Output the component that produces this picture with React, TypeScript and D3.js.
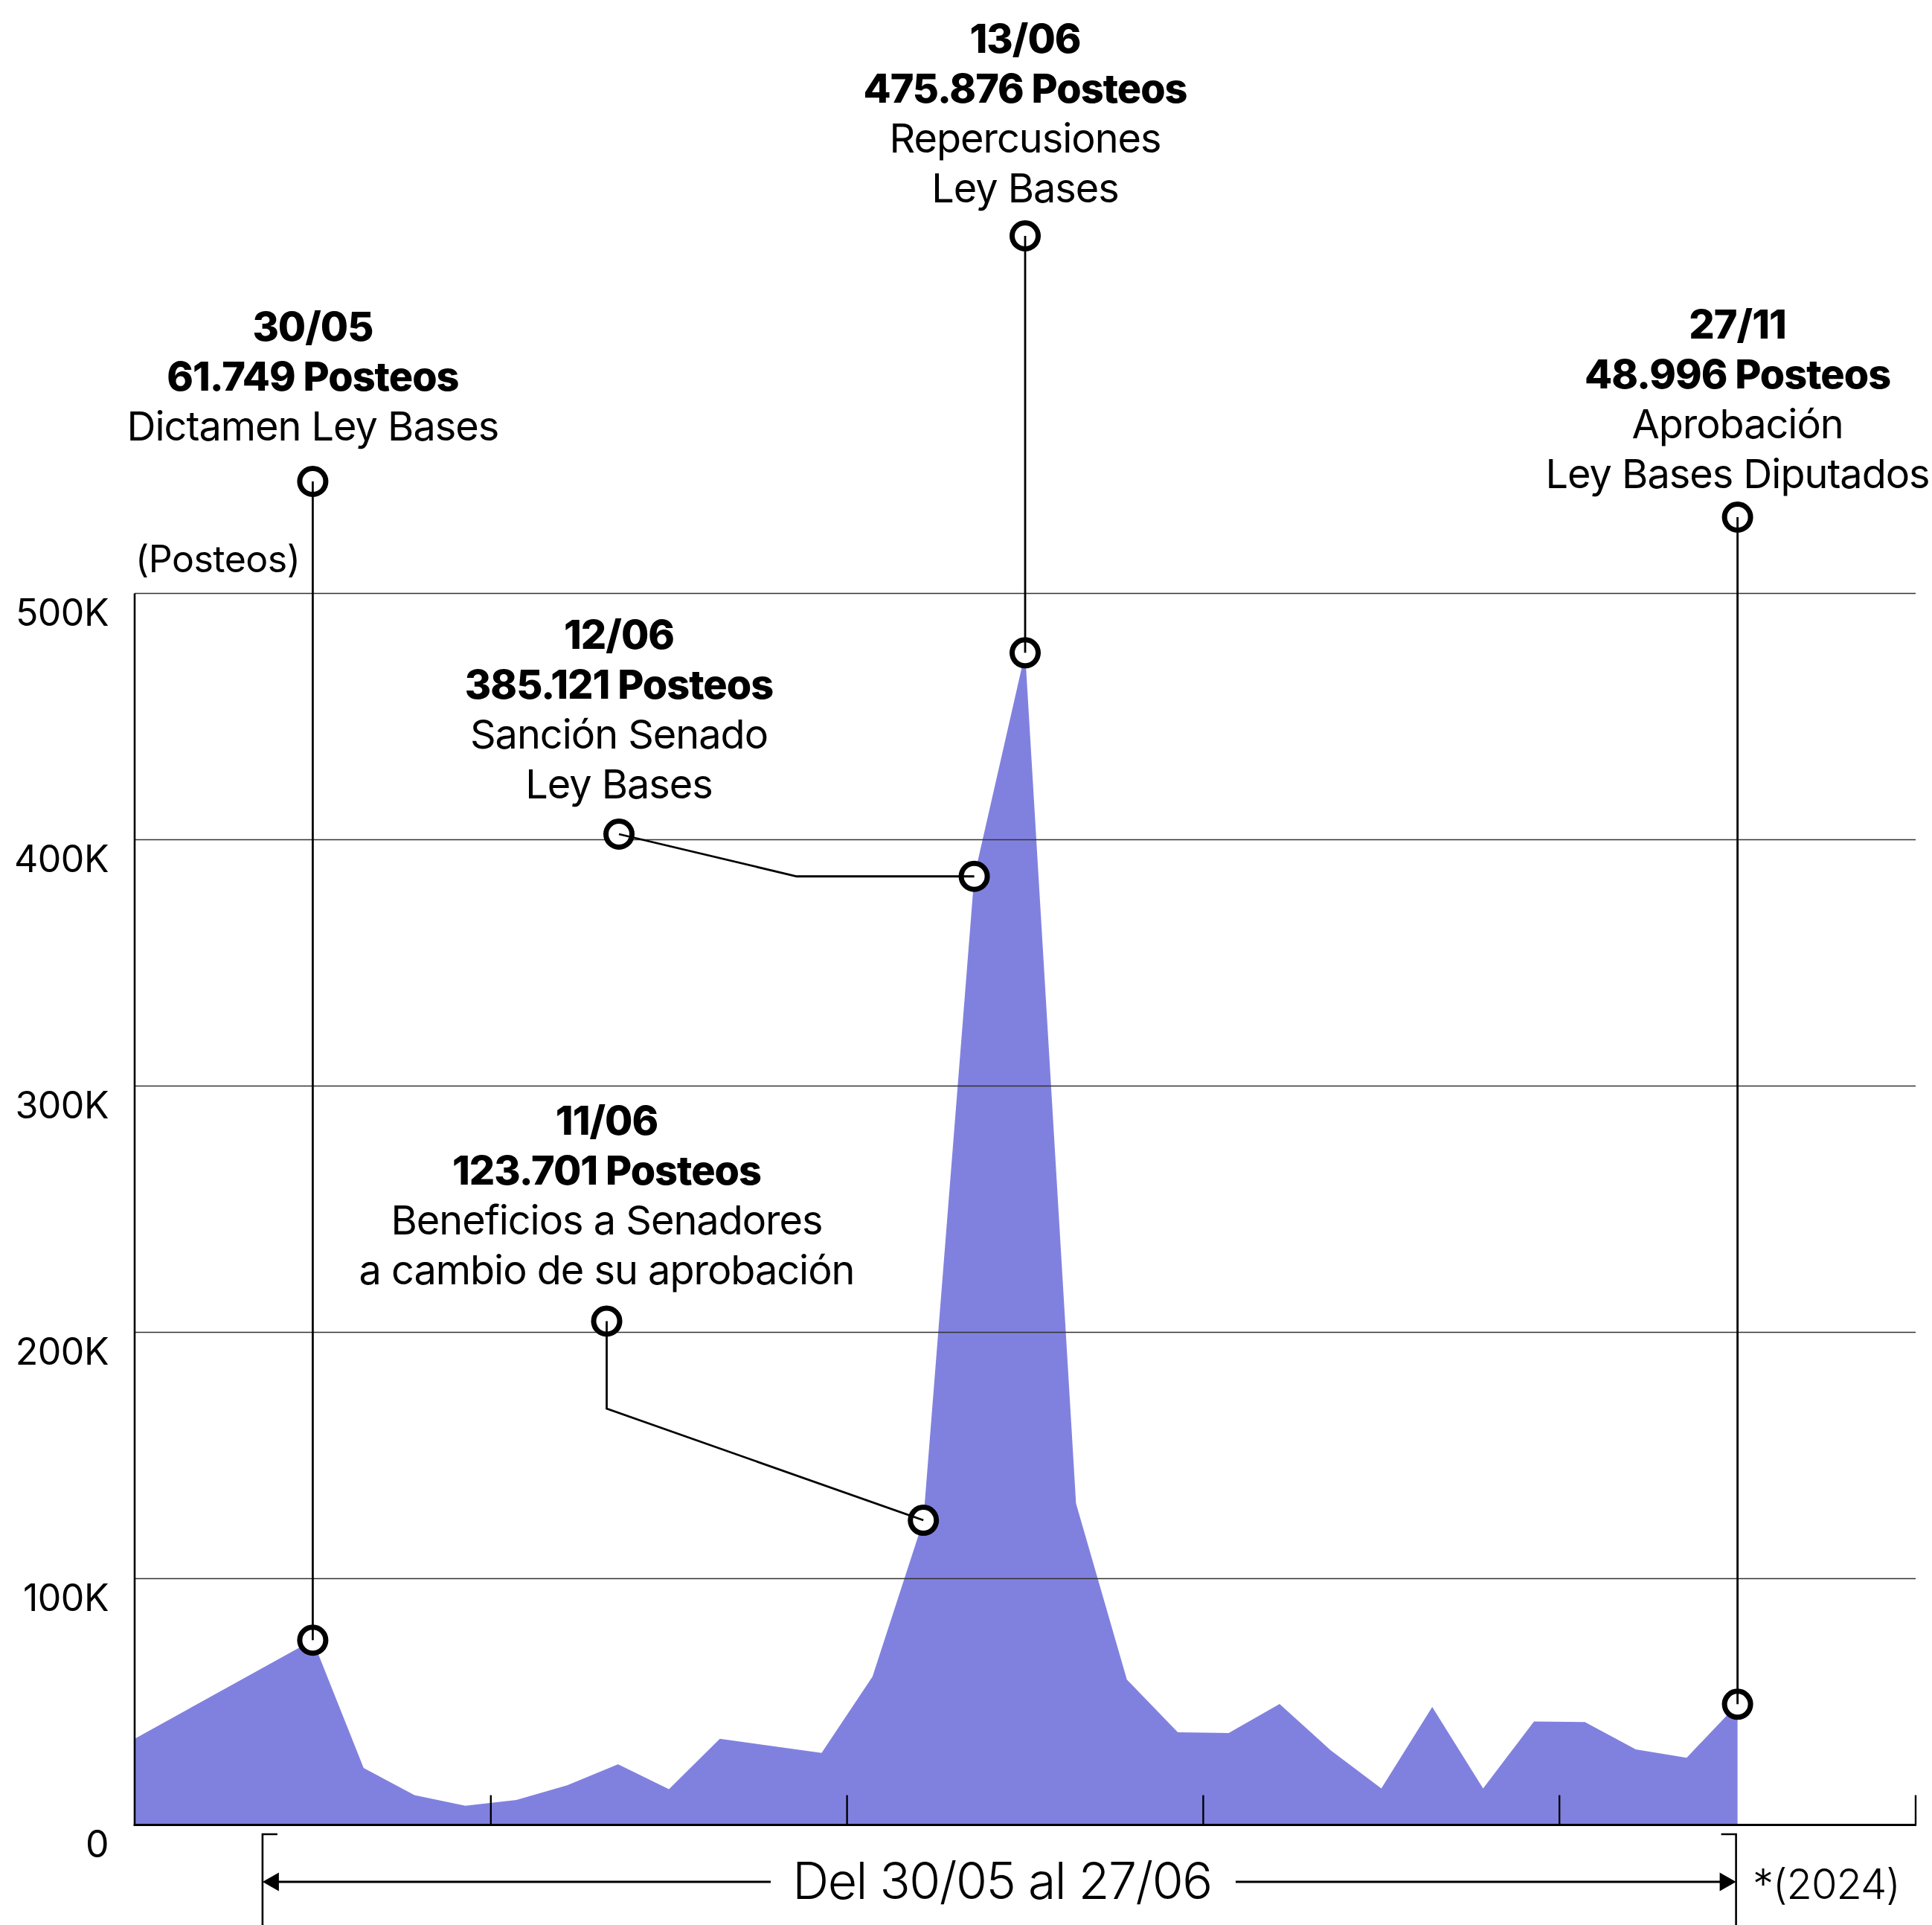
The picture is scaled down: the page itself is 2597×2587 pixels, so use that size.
import React from "react";
import * as d3 from "d3";

// ---------- data ----------
const days = [
  "30/05", "31/05", "01/06", "02/06", "03/06", "04/06", "05/06", "06/06",
  "07/06", "08/06", "09/06", "10/06", "11/06", "12/06", "13/06", "14/06",
  "15/06", "16/06", "17/06", "18/06", "19/06", "20/06", "21/06", "22/06",
  "23/06", "24/06", "25/06", "26/06", "27/06",
];
const posts = [
  75000, 23100, 12100, 7800, 10100, 16100, 24600, 14500,
  35000, 32100, 29200, 60200, 123701, 385121, 475876, 130500,
  59000, 37600, 37300, 49100, 30400, 14800, 47900, 14800,
  42000, 41800, 30700, 27300, 48996,
];
// value where the series enters the visible window (day offset -3.5)
const leadInOffset = -3.5;
const leadInPosts = 35000;

const xDomain = [-3.5, 31.5];
const xTickOffsets = [3.5, 10.5, 17.5, 24.5, 31.5];
const yTicks = [0, 100000, 200000, 300000, 400000, 500000];
const yTickLabels = ["0", "100K", "200K", "300K", "400K", "500K"];
const yLabel = "(Posteos)";
const rangeLabel = "Del 30/05 al 27/06";
const yearLabel = "*(2024)";

const annotationDays = ["30/05", "12/06", "11/06", "13/06", "27/06"];
const annotationTexts = [
  ["30/05", "61.749 Posteos", "Dictamen Ley Bases"],
  ["12/06", "385.121 Posteos", "Sanción Senado", "Ley Bases"],
  ["11/06", "123.701 Posteos", "Beneficios a Senadores", "a cambio de su aprobación"],
  ["13/06", "475.876 Posteos", "Repercusiones", "Ley Bases"],
  ["27/11", "48.996 Posteos", "Aprobación", "Ley Bases Diputados"],
];

// ---------- layout ----------
const W = 2597;
const H = 2587;
const PLOT = { left: 181, right: 2575, top: 797.5, bottom: 2452.5 };
const FONT = "Inter, 'Noto Sans', 'DejaVu Sans', sans-serif";
const INK = "#000";
const FILL = "#8081df";
const LINE_H = 67;

// label positions (pixel layout for each annotation)
const annLayout = [
  { cx: null, cy: 647, firstBaseline: 458, elbow: null },
  { cx: 832, cy: 1121, firstBaseline: 872, elbow: "h", elbowX: 1071 },
  { cx: 815.5, cy: 1775.5, firstBaseline: 1525, elbow: "v", elbowY: 1893 },
  { cx: null, cy: 317, firstBaseline: 71, elbow: null },
  { cx: null, cy: 695, firstBaseline: 455, elbow: null },
];

export default function App() {
  const x = d3.scaleLinear().domain(xDomain).range([PLOT.left, PLOT.right]);
  const y = d3.scaleLinear().domain([0, 500000]).range([PLOT.bottom, PLOT.top]);

  const series = [
    { i: leadInOffset, v: leadInPosts },
    ...posts.map((v, i) => ({ i, v })),
  ];
  const area = d3
    .area<{ i: number; v: number }>()
    .x((d) => x(d.i))
    .y0(y(0))
    .y1((d) => y(d.v))
    .curve(d3.curveLinear);

  const R = 17.5;
  const CIRCLE_W = 7;
  const LEADER_W = 2.8;

  const anns = annotationDays.map((day, a) => {
    const idx = days.indexOf(day);
    const px = x(idx);
    const py = y(posts[idx]);
    const L = annLayout[a];
    const cx = L.cx ?? px;
    const cy = L.cy;
    let pts: [number, number][];
    if (L.elbow === "h") pts = [[px, py], [L.elbowX as number, py], [cx, cy]];
    else if (L.elbow === "v") pts = [[px, py], [cx, L.elbowY as number], [cx, cy]];
    else pts = [[px, py], [cx, cy]];
    return { px, py, cx, cy, pts, lines: annotationTexts[a], firstBaseline: L.firstBaseline };
  });

  const line = d3.line();
  const arrowY = 2529;
  const bracketL = x(0) - 67.5;
  const bracketR = x(days.length - 1) - 2;
  const bracketTop = 2465;

  return (
    <svg
      width={W}
      height={H}
      viewBox={`0 0 ${W} ${H}`}
      style={{ position: "absolute", left: 0, top: 0, background: "#fff" }}
      fontFamily={FONT}
    >
      <rect x={0} y={0} width={W} height={H} fill="#fff" />
      {/* area */}
      <path d={area(series) as string} fill={FILL} />

      {/* gridlines */}
      {yTicks.slice(1).map((t) => (
        <line key={t} x1={PLOT.left} x2={PLOT.right} y1={y(t)} y2={y(t)} stroke="#333" strokeWidth={1.5} />
      ))}
      {/* axes */}
      <line x1={PLOT.left} x2={PLOT.left} y1={y(500000)} y2={y(0) + 1.5} stroke={INK} strokeWidth={2.6} />
      <line x1={PLOT.left - 1.3} x2={PLOT.right + 1} y1={y(0)} y2={y(0)} stroke={INK} strokeWidth={3.2} />
      {xTickOffsets.map((t) => (
        <line key={t} x1={x(t)} x2={x(t)} y1={y(0)} y2={y(0) - 40} stroke={INK} strokeWidth={2.4} />
      ))}

      {/* y labels */}
      {yTicks.map((t, i) => (
        <text key={t} x={146} y={y(t) + 43} textAnchor="end" fontSize={50} fill={INK} letterSpacing={-0.5}>
          {yTickLabels[i]}
        </text>
      ))}
      <text x={182} y={769} fontSize={50} fill={INK} letterSpacing={-0.5}>
        {yLabel}
      </text>

      {/* annotation circles & leaders */}
      {anns.map((a, k) => (
        <g key={k}>
          <circle cx={a.px} cy={a.py} r={R} fill="#fff" stroke={INK} strokeWidth={CIRCLE_W} />
          <circle cx={a.cx} cy={a.cy} r={R} fill="#fff" stroke={INK} strokeWidth={CIRCLE_W} />
          <path d={line(a.pts) as string} fill="none" stroke={INK} strokeWidth={LEADER_W} />
        </g>
      ))}

      {/* annotation text */}
      {anns.map((a, k) => (
        <text key={k} textAnchor="middle" fontSize={54} fill={INK} letterSpacing={-1}>
          {a.lines.map((s, j) => (
            <tspan key={j} x={a.cx} y={a.firstBaseline + j * LINE_H} fontWeight={j < 2 ? 800 : 400}>
              {s}
            </tspan>
          ))}
        </text>
      ))}

      {/* bottom range bracket */}
      <g stroke={INK} fill="none">
        <path d={`M${bracketL + 20},${bracketTop} H${bracketL} V${H + 5}`} strokeWidth={2.6} />
        <path d={`M${bracketR - 20},${bracketTop} H${bracketR} V${H + 5}`} strokeWidth={2.6} />
        <line x1={bracketL + 20} x2={1036} y1={arrowY} y2={arrowY} strokeWidth={3} />
        <line x1={1661} x2={bracketR - 20} y1={arrowY} y2={arrowY} strokeWidth={3} />
      </g>
      <path
        d={`M${bracketL},${arrowY} L${bracketL + 22},${arrowY - 12.5} L${bracketL + 22},${arrowY + 12.5} Z`}
        fill={INK}
      />
      <path
        d={`M${bracketR},${arrowY} L${bracketR - 22},${arrowY - 12.5} L${bracketR - 22},${arrowY + 12.5} Z`}
        fill={INK}
      />
      <text x={1347} y={2552} textAnchor="middle" fontSize={68} fontWeight={300} fill={INK} letterSpacing={-1.5}>
        {rangeLabel}
      </text>
      <text x={2356} y={2552} fontSize={56} fontWeight={300} fill={INK} letterSpacing={-1}>
        {yearLabel}
      </text>
    </svg>
  );
}
